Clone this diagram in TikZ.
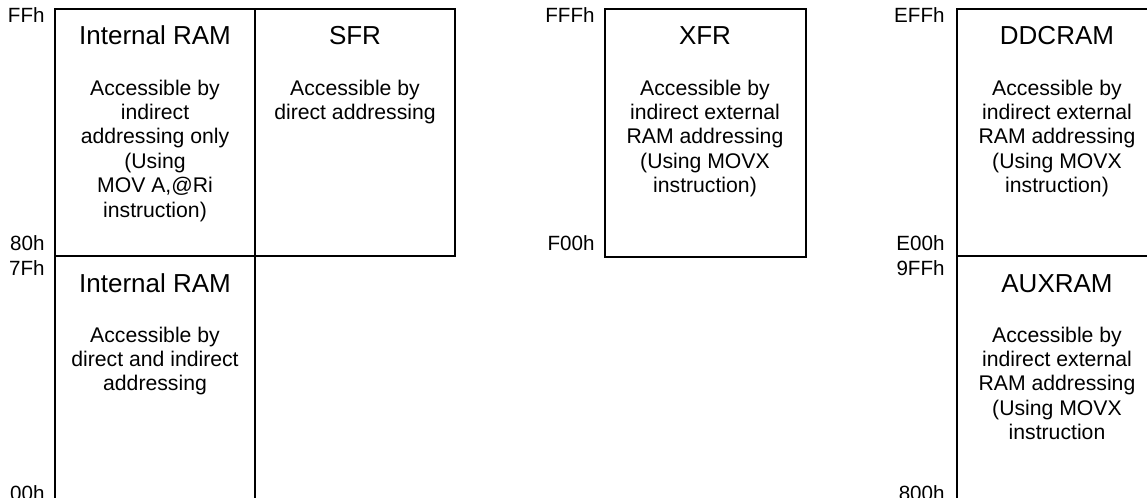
\documentclass[tikz,border=0pt]{standalone}
\usepackage{fontspec}
\setmainfont{Liberation Sans}
\begin{document}
\begin{tikzpicture}[x=0.5pt,y=-0.5pt,
    memline/.style={line width=1pt},
    blocktitle/.style={font=\fontsize{13}{15}\selectfont,anchor=base,inner sep=0pt},
    blocktext/.style={font=\fontsize{10.6}{12.2}\selectfont,align=center,anchor=base,inner sep=0pt},
    addr/.style={font=\fontsize{10.3}{12}\selectfont,anchor=east,inner sep=0pt}]
    \useasboundingbox (0,0) rectangle (1147,498);
    \clip (0,0) rectangle (1147,498);

    % internal RAM / SFR (text nodes sit on the baseline of their last line)
    \draw[memline] (55,9) coordinate (IR) rectangle (455,256);
    \draw[memline] (55,256) coordinate (IRlo) -- (55,510);
    \draw[memline] (255,9) coordinate (SF) -- (255,510);
    \draw (45,15) node[addr] (a-ffh) {FFh};
    \draw (45,243) node[addr] (a-80h) {80h};
    \draw (45,268) node[addr] (a-7fh) {7Fh};
    \draw (45,493) node[addr] (a-00h) {00h};
    \draw (155,44) node[blocktitle] (iramhi) {Internal RAM};
    \draw (155,217) node[blocktext] (iramhi-txt) {Accessible by\\indirect\\addressing only\\(Using\\MOV A,@Ri\\instruction)};
    \draw (355,44) node[blocktitle] (sfr) {SFR};
    \draw (355,119.4) node[blocktext] (sfr-txt) {Accessible by\\direct addressing};
    \draw (155,292) node[blocktitle] (iramlo) {Internal RAM};
    \draw (155,390.8) node[blocktext] (iramlo-txt) {Accessible by\\direct and indirect\\addressing};

    % XFR
    \draw[memline] (605,9) coordinate (XF) rectangle (806,257);
    \draw (595,15) node[addr] (a-fffh) {FFFh};
    \draw (595,243) node[addr] (a-f00h) {F00h};
    \draw (705,44) node[blocktitle] (xfr) {XFR};
    \draw (705,192.6) node[blocktext] (xfr-txt) {Accessible by\\indirect external\\RAM addressing\\(Using MOVX\\instruction)};

    % DDCRAM / AUXRAM
    \draw[memline] (957,510) -- (957,9) coordinate (DD) -- (1170,9);
    \draw[memline] (957,256) coordinate (AX) -- (1170,256);
    \draw (945,15) node[addr] (a-effh) {EFFh};
    \draw (945,243) node[addr] (a-e00h) {E00h};
    \draw (945,268) node[addr] (a-9ffh) {9FFh};
    \draw (945,493) node[addr] (a-800h) {800h};
    \draw (1057,44) node[blocktitle] (ddcram) {DDCRAM};
    \draw (1057,192.6) node[blocktext] (ddcram-txt) {Accessible by\\indirect external\\RAM addressing\\(Using MOVX\\instruction)};
    \draw (1057,292) node[blocktitle] (auxram) {AUXRAM};
    \draw (1057,439.6) node[blocktext] (auxram-txt) {Accessible by\\indirect external\\RAM addressing\\(Using MOVX\\instruction};
\end{tikzpicture}
\end{document}
